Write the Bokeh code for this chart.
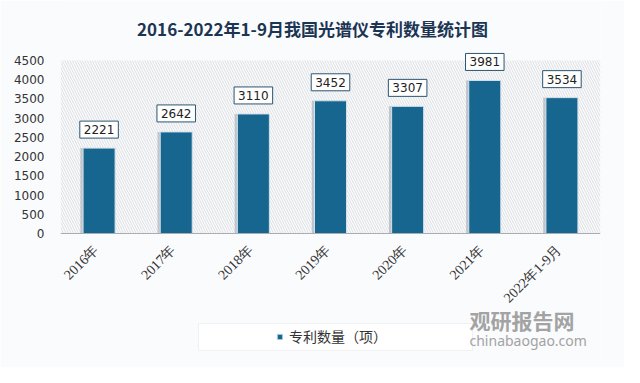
import math
from bokeh.plotting import figure
from bokeh.models import (ColumnDataSource, Range1d, BoxAnnotation, Label, LabelSet,
                          Legend, LegendItem, FixedTicker, Span)
from bokeh.transform import dodge
from bokeh.embed import file_html
from bokeh.resources import INLINE

# ---- data ----
categories = ["2016年", "2017年", "2018年", "2019年", "2020年", "2021年", "2022年1-9月"]
patents = [2221, 2642, 3110, 3452, 3307, 3981, 3534]
y_ticks = [0, 500, 1000, 1500, 2000, 2500, 3000, 3500, 4000, 4500]
y_max = 4500
title_text = "2016-2022年1-9月我国光谱仪专利数量统计图"
series_name = "专利数量（项）"

# ---- layout constants (pixels) ----
W, H = 624, 367
ZERO_Y = 233                 # pixel row (from canvas top) of value 0
PX_PER_UNIT = 173 / 4500     # vertical scale
BAR = "#17668f"
CARD = "#fafbfd"

y_end = ZERO_Y / PX_PER_UNIT
y_start = -(H - ZERO_Y) / PX_PER_UNIT

src = ColumnDataSource(dict(cat=categories, val=patents))

p = figure(x_range=categories, y_range=Range1d(y_start, y_end), width=W, height=H,
           output_backend="svg", toolbar_location=None,
           min_border_left=60, min_border_right=24, min_border_top=0,
           min_border_bottom=0)
p.x_range.range_padding = 0
p.border_fill_color = CARD
p.background_fill_color = CARD
p.outline_line_color = None
p.grid.visible = False

# hatched plot area (0 .. y_max)
p.add_layout(BoxAnnotation(bottom=0, top=y_max, fill_alpha=0, line_color=None,
                           hatch_pattern="\\", hatch_color="#d5d8dc", hatch_scale=5,
                           hatch_weight=0.8, level="underlay"))

# bars (soft shadow + main bar)
p.vbar(x=dodge("cat", -0.035, range=p.x_range), top="val", width=0.415,
       source=src, fill_color="#9aa2ab", fill_alpha=0.55, line_color=None)
bars = p.vbar(x="cat", top="val", width=0.415, source=src,
              fill_color=BAR, line_color="#d2e2ec", line_width=1)

# axis line at 0
p.add_layout(Span(location=0, dimension="width", line_color="#a9adb2", line_width=1.2))

# value labels in boxes
for i, v in enumerate(patents):
    p.add_layout(Label(x=i + 0.5, y=v, text=str(v), y_offset=10,
                       text_align="center", text_baseline="bottom",
                       text_font="DejaVu Sans", text_font_size="12px",
                       text_color="#222222", background_fill_color="white",
                       border_line_color="#2b5573", border_line_width=1,
                       padding=4))

# category labels (rotated)
p.add_layout(LabelSet(x="cat", y=0, text="cat", source=src, angle=math.pi / 4,
                      x_offset=-3, y_offset=-14, text_align="right",
                      text_baseline="middle", text_font="Noto Sans CJK SC",
                      text_font_size="14px", text_color="#333333"))

# y axis
p.xaxis.visible = False
p.yaxis.ticker = FixedTicker(ticks=y_ticks)
p.yaxis.axis_line_color = None
p.yaxis.major_tick_line_color = None
p.yaxis.minor_tick_line_color = None
p.yaxis.major_label_text_font = "DejaVu Sans"
p.yaxis.major_label_text_font_size = "12px"
p.yaxis.major_label_text_color = "#333333"
p.yaxis.major_label_standoff = 10

# title (screen units, relative to plot frame bottom-left)
p.add_layout(Label(x=252, y=339, x_units="screen", y_units="screen",
                   text=title_text, text_align="center", text_baseline="middle",
                   text_font="Noto Sans CJK SC", text_font_size="17px",
                   text_font_style="bold", text_color="#1b3553"))

# legend box + legend
p.add_layout(BoxAnnotation(left=138, right=412, top=44, bottom=17,
                           left_units="screen", right_units="screen",
                           top_units="screen", bottom_units="screen",
                           fill_color="white", fill_alpha=1, line_color="#d3d6da",
                           line_width=1, level="underlay"))
legend = Legend(items=[LegendItem(label=series_name, renderers=[bars])],
                location=(216, 21), orientation="horizontal",
                glyph_width=7, glyph_height=7, label_standoff=6,
                label_text_font="Noto Sans CJK SC", label_text_font_size="14px",
                label_text_color="#333333", padding=0, margin=0, spacing=0,
                border_line_color=None, background_fill_alpha=0)
p.add_layout(legend, "center")

# watermark
p.add_layout(Label(x=409, y=48, x_units="screen", y_units="screen",
                   text="观研报告网", text_align="left", text_baseline="middle",
                   text_font="Noto Sans CJK SC", text_font_size="21px",
                   text_font_style="bold", text_color="#a3a3a3"))
p.add_layout(Label(x=409, y=27, x_units="screen", y_units="screen",
                   text="chinabaogao.com", text_align="left", text_baseline="middle",
                   text_font="Noto Sans", text_font_size="14px",
                   text_color="#a3a3a3"))

open("out.html", "w").write(file_html(p, INLINE))
